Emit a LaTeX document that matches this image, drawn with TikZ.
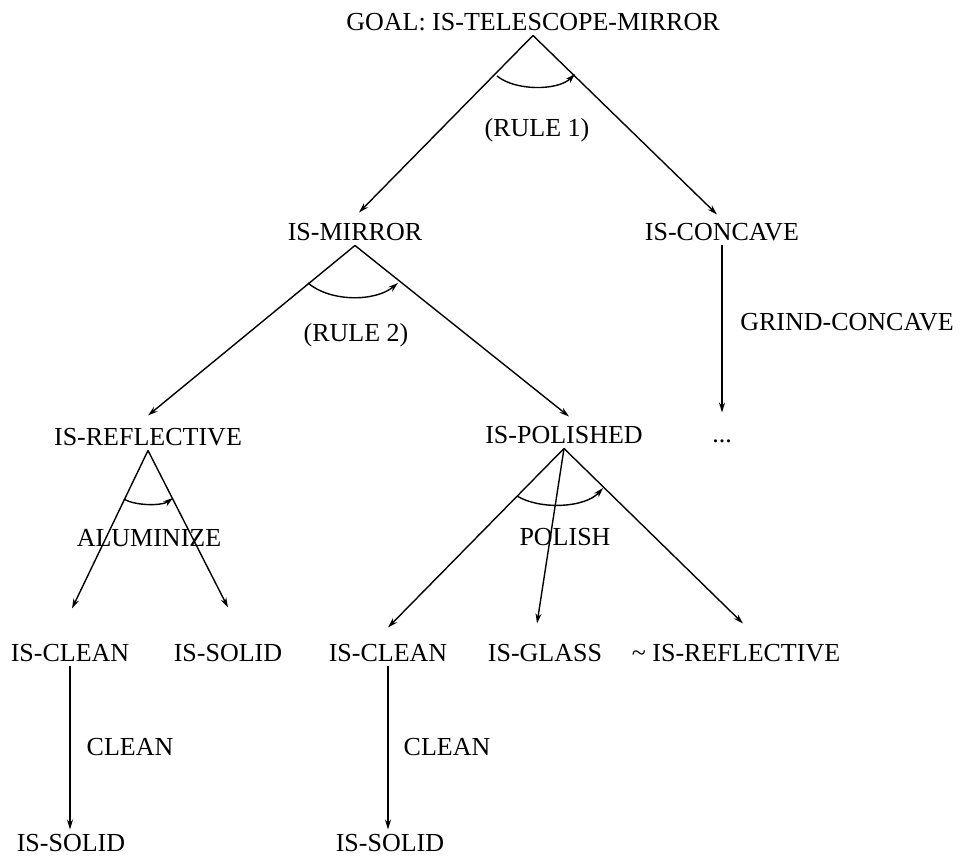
\documentclass[tikz,border=0pt]{standalone}
\usepackage{fontspec}
\setmainfont{Liberation Serif}
\usetikzlibrary{arrows.meta}
\begin{document}
\begin{tikzpicture}[x=1pt,y=1pt]
\tikzset{goal/.style={font=\fontsize{26}{30}\selectfont, inner sep=0pt, outer sep=5pt, text height=17pt, text depth=0pt}}
\tikzset{link/.style={line width=1.4pt, -{Stealth[length=10pt,width=6pt]}}}
\useasboundingbox (0,0) rectangle (960,858);
% goals
\node[goal] (top) at (533,836) {GOAL: IS-TELESCOPE-MIRROR};
\node[goal] (mirror) at (355,626) {IS-MIRROR};
\node[goal] (concave) at (722,626) {IS-CONCAVE};
\node[goal] (reflective) at (148,421) {IS-REFLECTIVE};
\node[goal] (polished) at (564,423) {IS-POLISHED};
\node[goal] (dots) at (722,424) {...};
\node[goal] (clean1) at (70,205) {IS-CLEAN};
\node[goal] (solid1) at (228,205) {IS-SOLID};
\node[goal] (clean2) at (388,205) {IS-CLEAN};
\node[goal] (glass) at (545,205) {IS-GLASS};
\node[goal] (notrefl) at (736,205) {\textasciitilde\ IS-REFLECTIVE};
\node[goal] (solid2) at (71,15) {IS-SOLID};
\node[goal] (solid3) at (390,15) {IS-SOLID};
% rules and operators
\node[goal] (rule1) at (537,730) {(RULE 1)};
\node[goal] (rule2) at (356,525) {(RULE 2)};
\node[goal] (grind) at (847,536) {GRIND-CONCAVE};
\node[goal] (aluminize) at (149,320) {ALUMINIZE};
\node[goal] (polish) at (565,321) {POLISH};
\node[goal] (cleanop1) at (130,111) {CLEAN};
\node[goal] (cleanop2) at (447,111) {CLEAN};
% rule 1
\draw[link] (top.south) -- ([xshift=4pt,yshift=6pt]mirror.north);
\draw[link] (top.south) -- ([xshift=-5pt,yshift=4pt]concave.north);
\draw[link] (497,782) .. controls (515,767) and (558,767) .. (575,784);
% rule 2
\draw[link] (mirror.south) -- ([yshift=8pt]reflective.north);
\draw[link] (mirror.south) -- ([xshift=5pt,yshift=5pt]polished.north);
\draw[link] (308,575) .. controls (330,556) and (375,556) .. (398,575);
% grind-concave
\draw[link] (concave.south) -- ([yshift=8pt]dots.north);
% aluminize
\draw[link] (reflective.south) -- ([xshift=2pt,yshift=31pt]clean1.north);
\draw[link] (reflective.south) -- ([yshift=32pt]solid1.north);
\draw[link] (124,359) .. controls (135,352) and (162,352) .. (173,360);
% polish
\draw[link] (polished.south) -- ([yshift=12pt]clean2.north);
\draw[link] (polished.south) -- ([xshift=-8pt,yshift=16pt]glass.north);
\draw[link] (polished.south) -- ([xshift=7pt,yshift=16pt]notrefl.north);
\draw[link] (517,362) .. controls (540,348) and (585,350) .. (603,370);
% clean
\draw[link] (clean1.south) -- (clean1.south |- solid2.north);
\draw[link] (clean2.south) -- (clean2.south |- solid3.north);
\end{tikzpicture}
\end{document}
